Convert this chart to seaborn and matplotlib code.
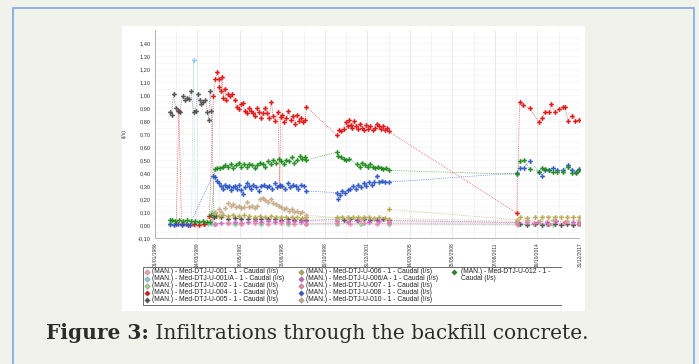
import numpy as np
import pandas as pd
import seaborn as sns
import matplotlib
matplotlib.use("Agg")
import matplotlib.pyplot as plt
from matplotlib.patches import Rectangle
from datetime import datetime, timedelta

sns.set_theme(style="white")
plt.rcParams['font.family'] = ['Liberation Sans', 'DejaVu Sans']

# ---------------- data (decimal years, l/s) ----------------
SERIES = ["(MAN.) - Med-DTJ-U-001 - 1 - Caudal (l/s)",
          "(MAN.) - Med-DTJ-U-001/A - 1 - Caudal (l/s)",
          "(MAN.) - Med-DTJ-U-002 - 1 - Caudal (l/s)",
          "(MAN.) - Med-DTJ-U-004 - 1 - Caudal (l/s)",
          "(MAN.) - Med-DTJ-U-005 - 1 - Caudal (l/s)",
          "(MAN.) - Med-DTJ-U-006 - 1 - Caudal (l/s)",
          "(MAN.) - Med-DTJ-U-006/A - 1 - Caudal (l/s)",
          "(MAN.) - Med-DTJ-U-007 - 1 - Caudal (l/s)",
          "(MAN.) - Med-DTJ-U-008 - 1 - Caudal (l/s)",
          "(MAN.) - Med-DTJ-U-010 - 1 - Caudal (l/s)",
          "(MAN.) - Med-DTJ-U-012 - 1 - Caudal (l/s)"]
COLORS = ["#f4a0a0", "#8ec9ec", "#8fd88f", "#dd1111", "#505050", "#b5a84a",
          "#cc5fcc", "#ee7fa6", "#2b55c8", "#c8aa88", "#1c8a1c"]

U001_T = [1987.1, 1988.0, 1989.0, 1989.8, 1990.3, 1990.5, 1992.0, 1994.0, 1996.0, 1997.4,
          1999.7, 2001.5, 2003.6, 2013.3, 2015.5, 2017.95]
U001_V = [0.0, 0.005, 0.0, 0.005, 0.05, 0.01, 0.005, 0.01, 0.005, 0.01,
          0.005, 0.01, 0.005, 0.005, 0.01, 0.005]

U001A_T = [1987.1, 1987.6, 1988.2, 1988.75, 1988.9, 1989.05, 1989.6, 1990.2, 1990.45, 1992.0,
           1994.0, 1996.0, 1997.4, 1999.7, 2001.5, 2003.6, 2013.3, 2015.5, 2017.95]
U001A_V = [0.01, 0.005, 0.01, 0.01, 1.27, 0.01, 0.005, 0.01, 0.01, 0.01,
           0.005, 0.01, 0.005, 0.01, 0.005, 0.01, 0.005, 0.01, 0.005]

U002_T = [1987.1, 1988.0, 1989.0, 1990.0, 1990.3, 1990.5, 1992.0, 1994.0, 1996.0, 1997.4,
          1999.7, 2001.5, 2003.6, 2013.3, 2014.5, 2016.0, 2017.95]
U002_V = [0.01, 0.01, 0.005, 0.01, 0.10, 0.01, 0.005, 0.01, 0.005, 0.005,
          0.01, 0.005, 0.01, 0.0, 0.005, 0.0, 0.005]

U004_T = [1987.6, 1987.8, 1988.0, 1988.5, 1988.9, 1989.3, 1989.7, 1990.1,
          1990.40, 1990.55, 1990.70, 1990.80, 1990.85, 1990.95, 1991.05, 1991.15, 1991.25, 1991.35,
          1991.50, 1991.65, 1991.80, 1992.00, 1992.15, 1992.30, 1992.45, 1992.60, 1992.75, 1992.90,
          1993.05, 1993.20, 1993.35, 1993.50, 1993.65, 1993.80, 1994.00, 1994.15, 1994.30, 1994.45,
          1994.60, 1994.75, 1994.90, 1995.05, 1995.25, 1995.40, 1995.45, 1995.60, 1995.75, 1995.90,
          1996.05, 1996.25, 1996.40, 1996.55, 1996.70, 1996.85, 1997.00, 1997.15, 1997.30, 1997.40,
          1999.70, 1999.85, 2000.00, 2000.20, 2000.35, 2000.50, 2000.60, 2000.75, 2000.85, 2001.00,
          2001.15, 2001.30, 2001.45, 2001.60, 2001.75, 2001.90, 2002.05, 2002.20, 2002.40, 2002.55,
          2002.70, 2002.85, 2003.00, 2003.15, 2003.30, 2003.45, 2003.60,
          2013.25, 2013.45, 2013.70, 2014.20, 2014.90, 2015.15, 2015.40, 2015.70, 2015.85, 2016.10,
          2016.40, 2016.70, 2016.85, 2017.10, 2017.40, 2017.65, 2017.95]
U004_V = [0.01, 0.88, 0.01, 0.0, 0.005, 0.0, 0.005, 0.07,
          0.99, 1.12, 1.18, 1.12, 1.06, 1.03, 1.14, 0.98, 1.05, 0.96,
          1.01, 0.99, 1.01, 0.96, 0.91, 0.89, 0.93, 0.94, 0.88, 0.86,
          0.90, 0.88, 0.86, 0.84, 0.90, 0.87, 0.82, 0.86, 0.90, 0.86,
          0.82, 0.95, 0.84, 0.80, 0.87, 0.30, 0.83, 0.85, 0.79, 0.82,
          0.88, 0.81, 0.84, 0.78, 0.85, 0.80, 0.82, 0.79, 0.81, 0.91,
          0.69, 0.73, 0.72, 0.74, 0.79, 0.76, 0.81, 0.77, 0.75, 0.80,
          0.76, 0.74, 0.78, 0.75, 0.73, 0.77, 0.74, 0.76, 0.73, 0.75,
          0.78, 0.76, 0.74, 0.76, 0.73, 0.75, 0.72,
          0.09, 0.95, 0.92, 0.90, 0.79, 0.82, 0.87, 0.87, 0.93, 0.87,
          0.89, 0.91, 0.91, 0.80, 0.84, 0.80, 0.81]

U005_T = [1987.1, 1987.25, 1987.4, 1987.55, 1987.7, 1987.85, 1988.1, 1988.25, 1988.4, 1988.55,
          1988.7, 1988.9, 1989.05, 1989.2, 1989.35, 1989.5, 1989.65, 1989.8, 1989.95, 1990.05,
          1990.15, 1990.25, 1990.45, 1990.6, 1991.0, 1991.5, 1992.0, 1992.5, 1993.0, 1993.5,
          1994.0, 1994.5, 1995.0, 1995.5, 1996.0, 1996.5, 1997.0, 1997.4,
          1999.7, 2000.2, 2000.7, 2001.2, 2001.7, 2002.2, 2002.7, 2003.2, 2003.6,
          2013.25, 2013.5, 2014.0, 2014.6, 2015.1, 2015.6, 2016.1, 2016.6, 2017.0, 2017.5, 2017.95]
U005_V = [0.87, 0.85, 1.01, 0.90, 0.88, 0.87, 0.99, 0.96, 0.98, 0.97,
          1.03, 0.87, 0.88, 1.01, 0.96, 0.93, 0.95, 0.96, 0.87, 0.81,
          1.03, 0.88, 0.06, 0.07, 0.06, 0.05, 0.055, 0.05, 0.045, 0.05,
          0.045, 0.05, 0.045, 0.04, 0.045, 0.04, 0.04, 0.035,
          0.045, 0.04, 0.045, 0.04, 0.045, 0.04, 0.04, 0.045, 0.035,
          0.02, 0.01, 0.0, 0.005, 0.0, 0.01, 0.005, 0.0, 0.005, 0.0, 0.005]

U006_T = [1990.5, 1990.8, 1991.1, 1991.5, 1991.9, 1992.3, 1992.7, 1993.1, 1993.5, 1993.9,
          1994.3, 1994.7, 1995.1, 1995.5, 1995.9, 1996.3, 1996.7, 1997.1, 1997.4,
          1999.7, 2000.1, 2000.5, 2000.9, 2001.3, 2001.7, 2002.1, 2002.5, 2002.9, 2003.3, 2003.6,
          2013.25, 2013.5, 2014.0, 2014.6, 2015.1, 2015.6, 2016.1, 2016.6, 2017.0, 2017.5, 2017.95]
U006_V = [0.09, 0.07, 0.08, 0.07, 0.08, 0.07, 0.075, 0.07, 0.065, 0.07,
          0.065, 0.07, 0.065, 0.06, 0.065, 0.06, 0.06, 0.055, 0.06,
          0.06, 0.065, 0.06, 0.06, 0.065, 0.06, 0.06, 0.055, 0.06, 0.055, 0.12,
          0.04, 0.06, 0.055, 0.06, 0.06, 0.065, 0.065, 0.065, 0.06, 0.06, 0.065]

U006A_T = [1990.5, 1991.0, 1991.5, 1992.0, 1992.5, 1993.0, 1993.5, 1994.0, 1994.5, 1995.0,
           1995.5, 1996.0, 1996.5, 1997.0, 1997.4, 1999.7, 2000.5, 2001.3, 2002.1, 2002.9, 2003.6,
           2013.25, 2014.0, 2014.8, 2015.5, 2016.2, 2016.9, 2017.5, 2017.95]
U006A_V = [0.01, 0.015, 0.015, 0.02, 0.015, 0.02, 0.03, 0.025, 0.03, 0.025,
           0.03, 0.025, 0.03, 0.025, 0.03, 0.03, 0.025, 0.03, 0.025, 0.03, 0.025,
           0.02, 0.025, 0.02, 0.025, 0.03, 0.025, 0.02, 0.025]

U007_T = [1990.5, 1991.5, 1992.5, 1993.5, 1994.5, 1995.5, 1996.5, 1997.4,
          1999.7, 2000.7, 2001.7, 2002.7, 2003.6, 2013.25, 2014.5, 2015.7, 2016.8, 2017.95]
U007_V = [0.01, 0.015, 0.01, 0.015, 0.01, 0.015, 0.01, 0.01,
          0.015, 0.01, 0.015, 0.01, 0.015, 0.01, 0.015, 0.01, 0.015, 0.01]

U008_T = [1987.1, 1987.4, 1987.7, 1988.0, 1988.3, 1988.6,
          1990.35, 1990.5, 1990.65, 1990.8, 1990.95, 1991.1, 1991.25, 1991.4, 1991.55, 1991.7,
          1991.85, 1992.0, 1992.15, 1992.3, 1992.45, 1992.6, 1992.75, 1992.9, 1993.05, 1993.2,
          1993.4, 1993.6, 1993.8, 1994.0, 1994.2, 1994.4, 1994.6, 1994.8, 1995.0, 1995.2,
          1995.4, 1995.6, 1995.8, 1996.0, 1996.2, 1996.4, 1996.6, 1996.8, 1997.0, 1997.2, 1997.4,
          1999.7, 1999.8, 1999.95, 2000.1, 2000.3, 2000.5, 2000.7, 2000.9, 2001.1, 2001.3,
          2001.5, 2001.7, 2001.9, 2002.1, 2002.3, 2002.5, 2002.7, 2002.9, 2003.1, 2003.3, 2003.6,
          2013.25, 2013.45, 2013.75, 2014.2, 2014.9, 2015.15, 2015.4, 2015.7, 2016.0, 2016.3,
          2016.7, 2017.1, 2017.4, 2017.7, 2017.95]
U008_V = [0.005, 0.0, 0.005, 0.0, 0.005, 0.0,
          0.38, 0.37, 0.34, 0.32, 0.30, 0.28, 0.31, 0.29, 0.30, 0.27,
          0.29, 0.30, 0.28, 0.31, 0.27, 0.24, 0.29, 0.32, 0.30, 0.28,
          0.31, 0.29, 0.26, 0.30, 0.31, 0.29, 0.30, 0.28, 0.32, 0.29,
          0.31, 0.30, 0.28, 0.32, 0.29, 0.31, 0.30, 0.28, 0.31, 0.30, 0.26,
          0.25, 0.20, 0.23, 0.26, 0.25, 0.27, 0.28, 0.30, 0.28, 0.31,
          0.29, 0.32, 0.30, 0.33, 0.31, 0.33, 0.38, 0.33, 0.34, 0.33, 0.33,
          0.40, 0.44, 0.44, 0.49, 0.41, 0.38, 0.42, 0.42, 0.44, 0.42,
          0.42, 0.46, 0.42, 0.41, 0.43]

U010_T = [1990.5, 1990.8, 1991.0, 1991.3, 1991.5, 1991.7, 1991.9, 1992.1, 1992.3, 1992.5,
          1992.7, 1992.9, 1993.1, 1993.3, 1993.5, 1993.7, 1993.9, 1994.1, 1994.3, 1994.5,
          1994.7, 1994.9, 1995.1, 1995.3, 1995.5, 1995.7, 1995.9, 1996.1, 1996.3, 1996.5,
          1996.7, 1996.9, 1997.1, 1997.4,
          1999.7, 2000.5, 2001.5, 2002.5, 2003.6,
          2013.25, 2014.0, 2015.0, 2016.0, 2017.0, 2017.95]
U010_V = [0.10, 0.12, 0.10, 0.13, 0.17, 0.15, 0.16, 0.14, 0.15, 0.13,
          0.14, 0.18, 0.14, 0.15, 0.13, 0.15, 0.20, 0.21, 0.19, 0.18,
          0.20, 0.17, 0.16, 0.15, 0.14, 0.12, 0.13, 0.11, 0.12, 0.10,
          0.11, 0.09, 0.10, 0.08,
          0.05, 0.045, 0.05, 0.045, 0.05,
          0.03, 0.035, 0.03, 0.035, 0.03, 0.035]

U012_T = [1987.1, 1987.3, 1987.5, 1987.8, 1988.1, 1988.4, 1988.7, 1989.0, 1989.3, 1989.6,
          1989.9, 1990.15, 1990.25,
          1990.5, 1990.7, 1990.9, 1991.1, 1991.3, 1991.5, 1991.7, 1991.9, 1992.1, 1992.3,
          1992.5, 1992.7, 1992.9, 1993.1, 1993.3, 1993.5, 1993.7, 1993.9, 1994.1, 1994.3,
          1994.5, 1994.7, 1994.9, 1995.1, 1995.3, 1995.5, 1995.7, 1995.9, 1996.1, 1996.3,
          1996.5, 1996.7, 1996.9, 1997.1, 1997.3, 1997.4,
          1999.7, 1999.8, 2000.0, 2000.2, 2000.4, 2000.6, 2001.2, 2001.4, 2001.6, 2001.8,
          2002.0, 2002.2, 2002.4, 2002.6, 2002.8, 2003.0, 2003.2, 2003.4, 2003.6,
          2013.25, 2013.45, 2013.75, 2014.2, 2014.9, 2015.15, 2015.4, 2015.7, 2016.0, 2016.3,
          2016.7, 2017.1, 2017.4, 2017.7, 2017.95]
U012_V = [0.035, 0.04, 0.03, 0.035, 0.03, 0.035, 0.03, 0.03, 0.025, 0.03,
          0.02, 0.02, 0.08,
          0.43, 0.44, 0.44, 0.45, 0.46, 0.45, 0.47, 0.44, 0.46, 0.48,
          0.45, 0.47, 0.45, 0.47, 0.46, 0.44, 0.46, 0.48, 0.47, 0.45,
          0.49, 0.47, 0.50, 0.48, 0.51, 0.49, 0.47, 0.50, 0.49, 0.52,
          0.48, 0.50, 0.53, 0.51, 0.52, 0.50,
          0.56, 0.53, 0.52, 0.51, 0.50, 0.51, 0.47, 0.45, 0.48, 0.46,
          0.45, 0.47, 0.45, 0.44, 0.45, 0.44, 0.43, 0.44, 0.42,
          0.39, 0.49, 0.50, 0.43, 0.41, 0.44, 0.43, 0.42, 0.41, 0.41,
          0.41, 0.45, 0.40, 0.40, 0.42]

SERIES_T = [U001_T, U001A_T, U002_T, U004_T, U005_T, U006_T, U006A_T, U007_T, U008_T, U010_T, U012_T]
SERIES_V = [U001_V, U001A_V, U002_V, U004_V, U005_V, U006_V, U006A_V, U007_V, U008_V, U010_V, U012_V]

X_TICK_LABELS = ["01/01/1986", "14/03/1989", "26/05/1992", "08/08/1995", "19/10/1998", "31/12/2001",
                 "14/03/2005", "25/05/2008", "07/08/2011", "19/10/2014", "31/12/2017"]
Y_TICKS = [-0.10, 0.00, 0.10, 0.20, 0.30, 0.40, 0.50, 0.60, 0.70, 0.80, 0.90, 1.00, 1.10, 1.20, 1.30, 1.40]
Y_TICK_LABELS = ["-0,10", "0,00", "0,10", "0,20", "0,30", "0,40", "0,50", "0,60", "0,70", "0,80",
                 "0,90", "1,00", "1,10", "1,20", "1,30", "1,40"]
CAPTION_BOLD = "Figure 3:"
CAPTION_REST = " Infiltrations through the backfill concrete."


def yr2date(y):
    yi = int(np.floor(y))
    start = datetime(yi, 1, 1)
    ndays = (datetime(yi + 1, 1, 1) - start).days
    return start + timedelta(days=(y - yi) * ndays)


rows = []
for name, ts, vs in zip(SERIES, SERIES_T, SERIES_V):
    for t, v in zip(ts, vs):
        rows.append({"series": name, "date": yr2date(t), "value": v})
df = pd.DataFrame(rows)

# ---------------- figure ----------------
W, H = 699, 364
fig = plt.figure(figsize=(W / 100, H / 100), dpi=100)
fig.patch.set_facecolor("#f2f2ec")


def fx(px):
    return px / W


def fy(py):
    return 1 - py / H


# outer blue frame
fig.add_artist(Rectangle((fx(13), fy(420)), fx(694) - fx(13), fy(8) - fy(420),
                         transform=fig.transFigure, facecolor="none",
                         edgecolor="#7ea6e0", lw=1.2, zorder=0))
# white panel
fig.add_artist(Rectangle((fx(122), fy(311)), fx(585) - fx(122), fy(26) - fy(311),
                         transform=fig.transFigure, facecolor="white",
                         edgecolor="none", zorder=0))

ax = fig.add_axes([fx(155), fy(238), fx(580) - fx(155), fy(30) - fy(238)])
ax.set_facecolor("white")

for name, col in zip(SERIES, COLORS):
    sub = df[df["series"] == name]
    sns.lineplot(data=sub, x="date", y="value", ax=ax, color=col, estimator=None, sort=False,
                 marker="P", markersize=3.4, markeredgewidth=0, linewidth=0.5,
                 linestyle=":", legend=False, alpha=0.95)

xt = [datetime.strptime(s, "%d/%m/%Y") for s in X_TICK_LABELS]
ax.set_xlim(xt[0], xt[-1])
ax.set_ylim(-0.10, 1.50)
ax.set_xticks(xt)
ax.set_xticklabels(X_TICK_LABELS, rotation=90, fontsize=3.5, color="#333333")
xminor = [xt[i] + (xt[i + 1] - xt[i]) / 2 for i in range(len(xt) - 1)]
ax.set_xticks(xminor, minor=True)
ax.set_yticks(Y_TICKS)
ax.set_yticklabels(Y_TICK_LABELS, fontsize=4.1, color="#333333")
ax.set_yticks([v + 0.05 for v in Y_TICKS], minor=True)
ax.tick_params(axis="both", which="major", length=1.5, width=0.4, color="#888888", pad=1.5)
ax.tick_params(axis="both", which="minor", length=0.8, width=0.3, color="#aaaaaa")
ax.grid(which="major", axis="x", color="#e0e0e0", lw=0.5, ls="-")
ax.grid(which="minor", axis="x", color="#ececec", lw=0.4, ls="-")
ax.grid(which="both", axis="y", color="#dedede", lw=0.4, ls=(0, (1, 1.5)))
ax.set_xlabel("")
ax.set_ylabel("(l/s)", fontsize=3.8, color="#333333", labelpad=8)
for s in ["top", "right"]:
    ax.spines[s].set_visible(False)
for s in ["left", "bottom"]:
    ax.spines[s].set_color("#999999")
    ax.spines[s].set_linewidth(0.5)
    ax.spines[s].set_linestyle((0, (1, 1)))

# ---------------- legend ----------------
lx0, lx1, ly0, ly1 = 143, 562, 267, 306
lax = fig.add_axes([fx(lx0), fy(ly1), fx(lx1) - fx(lx0), fy(ly0) - fy(ly1)])
lax.set_xlim(lx0, lx1)
lax.set_ylim(ly1, ly0)
lax.axis("off")
lax.add_patch(Rectangle((lx0 + 0.5, ly0 + 0.5), lx1 - lx0 - 1, ly1 - ly0 - 1,
                        facecolor="white", edgecolor="#555555", lw=0.6))
col_mx = [147.5, 300.5, 453.5]
col_tx = [152.5, 306.0, 461.0]
row_y = [272.0, 279.0, 286.0, 293.0, 300.0]
for i, (name, col) in enumerate(zip(SERIES, COLORS)):
    c, r = divmod(i, 5)
    lax.plot([col_mx[c]], [row_y[r]], marker="D", ms=2.8, mfc=col,
             mec="#777777", mew=0.3, ls="none")
    if c == 2:
        parts = ["(MAN.) - Med-DTJ-U-012 - 1 -", "Caudal (l/s)"]
    else:
        parts = [name]
    for k, part in enumerate(parts):
        lax.text(col_tx[c], row_y[r + k], part, fontsize=4.9, color="#222222",
                 va="center", ha="left")

# ---------------- caption ----------------
t1 = fig.text(fx(46), fy(339), CAPTION_BOLD, fontsize=14.5, fontweight="bold",
              family=["DejaVu Serif"], color="#2b2b2b", va="baseline", ha="left")
fig.canvas.draw()
bb = t1.get_window_extent(renderer=fig.canvas.get_renderer())
fig.text(bb.x1 / W, fy(339), CAPTION_REST, fontsize=14.5,
         family=["DejaVu Serif"], color="#2b2b2b", va="baseline", ha="left")

fig.savefig("out.png", dpi=100, facecolor=fig.get_facecolor())
